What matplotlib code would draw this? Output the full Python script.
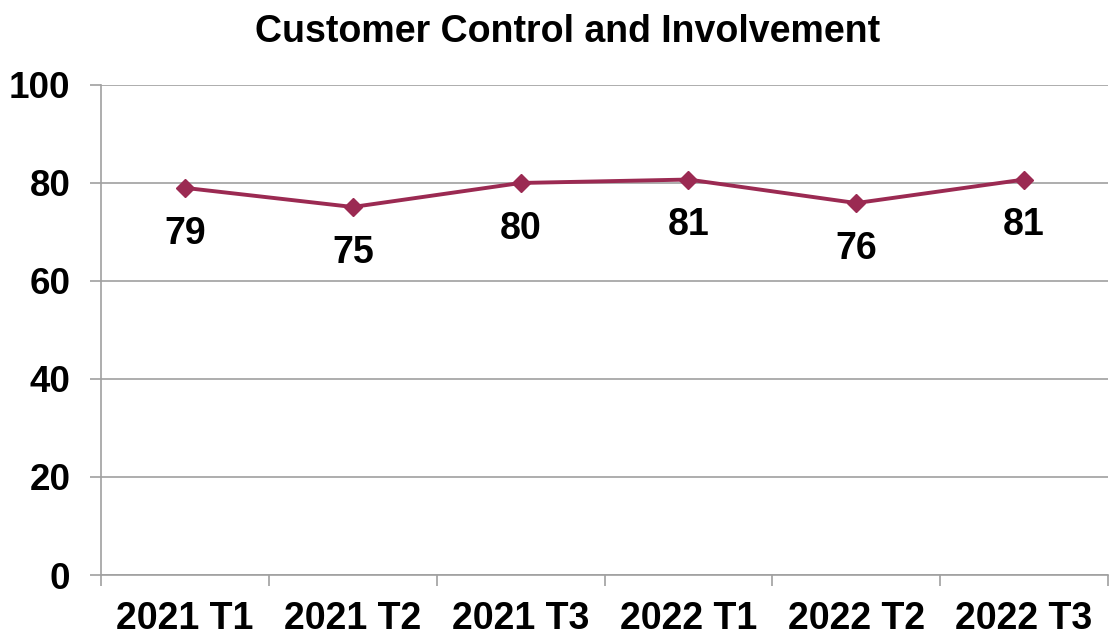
import matplotlib.pyplot as plt
import numpy as np

plt.rcParams['font.family'] = ['Liberation Sans', 'DejaVu Sans']

# Chart data
periods = ["2021 T1", "2021 T2", "2021 T3", "2022 T1", "2022 T2", "2022 T3"]
scores = [79.0, 75.1, 80.0, 80.7, 75.9, 80.7]
y_ticks = [0, 20, 40, 60, 80, 100]

line_color = "#9B2A52"
grid_color = "#A0A0A0"

fig = plt.figure(figsize=(11.09, 6.36), dpi=100)
ax = fig.add_axes([0.0911, 0.0959, 0.9080, 0.7705])

x = np.arange(len(periods))
ax.plot(x, scores, color=line_color, lw=2.8, marker="D", ms=9, zorder=3)

# value labels below the points
for xi, v in zip(x, scores):
    ax.annotate(f"{v:.0f}", (xi, v), xytext=(0, -33), textcoords="offset points",
                ha="center", va="center", fontsize=27, fontweight="bold")

ax.set_xlim(-0.5, len(periods) - 0.5)
ax.set_ylim(0, 100)
ax.set_yticks(y_ticks)
ax.set_yticklabels([str(t) for t in y_ticks], fontsize=26.5, fontweight="bold")
ax.yaxis.grid(True, color=grid_color, lw=1.2)
ax.set_axisbelow(True)

# category labels centred, ticks on the boundaries
ax.set_xticks(x)
ax.set_xticklabels(periods, fontsize=27, fontweight="bold")
ax.tick_params(axis="x", length=0, pad=19)
ax.set_xticks(np.arange(-0.5, len(periods)), minor=True)
ax.tick_params(axis="x", which="minor", length=8, color=grid_color, width=1.2)
ax.tick_params(axis="y", length=8, color=grid_color, width=1.2, pad=14)

for side in ["top", "right"]:
    ax.spines[side].set_visible(False)
for side in ["left", "bottom"]:
    ax.spines[side].set_color(grid_color)
    ax.spines[side].set_linewidth(1.2)

fig.suptitle("Customer Control and Involvement", x=0.512, y=0.978,
             fontsize=27, fontweight="bold")

fig.savefig("out.png", dpi=100)
